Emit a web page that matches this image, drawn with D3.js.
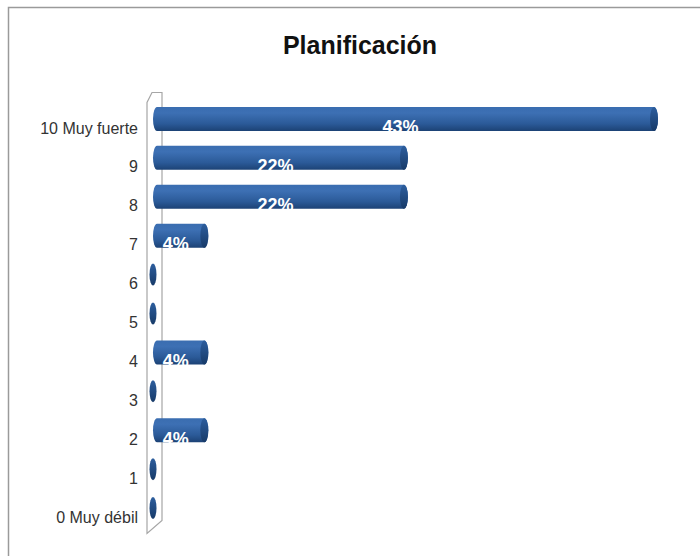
<!DOCTYPE html>
<html>
<head>
<meta charset="utf-8">
<script src="https://cdnjs.cloudflare.com/ajax/libs/d3/7.8.5/d3.min.js"></script>
<style>
body { margin: 0; background: #fff; }
</style>
</head>
<body>
<div id="chart"></div>
<script>
var width = 700,
height = 556;

// data, top to bottom as shown (bar lengths)
var categories = ["10 Muy fuerte", "9", "8", "7", "6", "5", "4", "3", "2", "1", "0 Muy débil"];
var values = [43.5, 21.7, 21.7, 4.3, 0, 0, 4.3, 0, 4.3, 0, 0];
var valueLabels = ["43%", "22%", "22%", "4%", "", "", "4%", "", "4%", "", ""];

var data = categories.map(function(c, i) {
    return {cat: c, value: values[i], label: valueLabels[i]};
});

var svg = d3.select("#chart")
.append("svg")
.attr("width", width)
.attr("height", height);

// frame
svg.append("rect")
.attr("x", 8.5).attr("y", 7.5)
.attr("width", 720).attr("height", 600)
.attr("fill", "#fff")
.attr("stroke", "#9a9a9a")
.attr("stroke-width", 1.5);

var defs = svg.append("defs");
var grad = defs.append("linearGradient")
.attr("id", "barGrad")
.attr("x1", 0).attr("y1", 0).attr("x2", 0).attr("y2", 1);
grad.append("stop").attr("offset", "0%").attr("stop-color", "#3a6db0");
grad.append("stop").attr("offset", "25%").attr("stop-color", "#3d70b4");
grad.append("stop").attr("offset", "70%").attr("stop-color", "#2b5a98");
grad.append("stop").attr("offset", "100%").attr("stop-color", "#1c4275");

var capGrad = defs.append("linearGradient")
.attr("id", "capGrad")
.attr("x1", 0).attr("y1", 0).attr("x2", 0).attr("y2", 1);
capGrad.append("stop").attr("offset", "0%").attr("stop-color", "#2d5e9e");
capGrad.append("stop").attr("offset", "100%").attr("stop-color", "#173a68");

// title
svg.append("text")
.attr("x", 360)
.attr("y", 54)
.attr("text-anchor", "middle")
.style("font-family", "'Liberation Sans Narrow', 'Liberation Sans', Arial, sans-serif")
.style("font-weight", "bold")
.style("font-size", "25px")
.attr("fill", "#111")
.text("Planificación");

var yScale = d3.scaleBand()
.domain(categories)
.range([108.5, 536.5])
.padding(0);

var xScale = d3.scaleLinear()
.domain([0, 43.5])
.range([159, 658]);

// back wall (thin slab)
var wx = 147;
var top0 = yScale.range()[0] - 6, bot0 = yScale.range()[1] - 3;
svg.append("path")
.attr("d", "M" + wx + "," + bot0 + " L" + wx + "," + top0 +
    " L" + (wx + 5) + "," + (top0 - 10) +
    " L" + (wx + 15) + "," + (top0 - 10) +
    " L" + (wx + 15) + "," + (bot0 - 13) + " Z")
.attr("fill", "#fff")
.attr("stroke", "#a6a6a6")
.attr("stroke-width", 1.2);

// category axis labels
svg.selectAll(".catLabel")
.data(data)
.enter()
.append("text")
.attr("class", "catLabel")
.attr("x", 138)
.attr("y", function(d) { return yScale(d.cat) + yScale.bandwidth() / 2; })
.attr("dy", "0.35em")
.attr("text-anchor", "end")
.style("font-family", "'Liberation Sans Narrow', 'Liberation Sans', Arial, sans-serif")
.style("font-size", "16px")
.attr("fill", "#333")
.text(function(d) { return d.cat; });

var barH = 24, rx = 4;

var bars = svg.selectAll(".bar")
.data(data)
.enter()
.append("g")
.attr("class", "bar")
.attr("transform", function(d) {
    return "translate(0," + (yScale(d.cat) + yScale.bandwidth() / 2 - 9) + ")";
});

bars.each(function(d) {
    var g = d3.select(this);
    var x0 = 157;
    if (d.value === 0) {
        g.append("ellipse")
        .attr("cx", 153).attr("cy", 0)
        .attr("rx", 3.5).attr("ry", 11)
        .attr("fill", "url(#capGrad)");
        return;
    }
    var x1 = xScale(d.value) - rx;
    g.append("path")
    .attr("d", "M" + x0 + "," + (-barH / 2) +
        " L" + x1 + "," + (-barH / 2) +
        " A" + rx + "," + (barH / 2) + " 0 0 1 " + x1 + "," + (barH / 2) +
        " L" + x0 + "," + (barH / 2) +
        " A" + rx + "," + (barH / 2) + " 0 0 1 " + x0 + "," + (-barH / 2) + " Z")
    .attr("fill", "url(#barGrad)");
    g.append("ellipse")
    .attr("cx", x1).attr("cy", 0)
    .attr("rx", rx).attr("ry", barH / 2)
    .attr("fill", "url(#capGrad)");
});

// value labels
svg.selectAll(".valLabel")
.data(data.filter(function(d) { return d.label !== ""; }))
.enter()
.append("text")
.attr("class", "valLabel")
.attr("x", function(d) { return (xScale(0) + xScale(d.value)) / 2 - 8; })
.attr("y", function(d) { return yScale(d.cat) + yScale.bandwidth() / 2; })
.attr("dy", "0.3em")
.attr("text-anchor", "middle")
.style("font-family", "'Liberation Sans Narrow', 'Liberation Sans', Arial, sans-serif")
.style("font-size", "18px")
.style("font-weight", "bold")
.attr("fill", "#fff")
.text(function(d) { return d.label; });
</script>
</body>
</html>
